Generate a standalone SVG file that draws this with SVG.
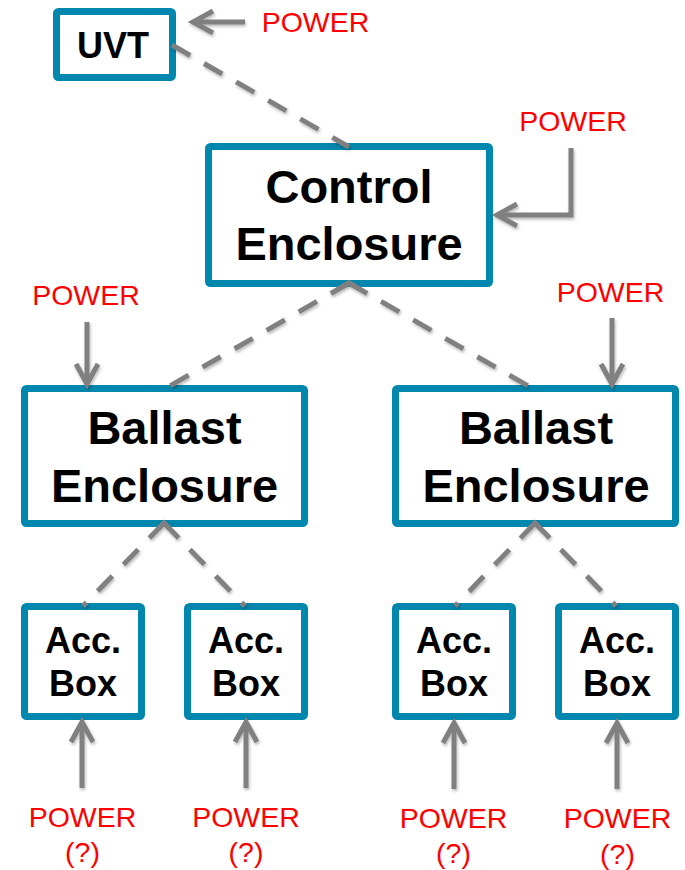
<svg xmlns="http://www.w3.org/2000/svg" width="685" height="870" viewBox="0 0 685 870">
  <style>
    .box { fill: #ffffff; stroke: #0087AE; stroke-width: 7; }
    .lbl { font-family: "Liberation Sans", Arial, sans-serif; font-weight: bold; fill: #000000; text-anchor: middle; }
    .big { font-size: 47px; }
    .mid { font-size: 36px; }
    .pwr { font-family: "Liberation Sans", Arial, sans-serif; font-size: 28.5px; fill: #FF0000; text-anchor: middle; }
    .dash { fill: none; stroke: #808080; stroke-width: 5; stroke-dasharray: 21 16; stroke-linecap: butt; }
    .peak { fill: none; stroke: #808080; stroke-width: 5; stroke-linejoin: miter; }
    .arr { fill: none; stroke: #808080; stroke-width: 5; stroke-linejoin: miter; marker-end: url(#chev); }
  </style>
  <defs>
    <marker id="chev" viewBox="-26 -14 30 28" refX="0" refY="0" markerWidth="30" markerHeight="28" markerUnits="userSpaceOnUse" orient="auto" overflow="visible">
      <path d="M -20 -11 L 0 0 L -20 11" fill="none" stroke="#808080" stroke-width="5" stroke-linejoin="miter"/>
    </marker>
    <filter id="sh" filterUnits="userSpaceOnUse" x="0" y="0" width="685" height="870">
      <feDropShadow dx="1" dy="2" stdDeviation="1.5" flood-color="#000000" flood-opacity="0.28"/>
    </filter>
  </defs>

  <g id="uvt">
    <rect class="box" x="56.5" y="11.5" width="116" height="66" rx="2"/>
    <text class="lbl mid" x="113" y="58">UVT</text>
  </g>
  <g id="control">
    <rect class="box" x="208.5" y="146.5" width="281" height="137" rx="2"/>
    <text class="lbl big" x="349" y="203">Control</text>
    <text class="lbl big" x="349" y="260">Enclosure</text>
  </g>
  <g id="ballast-left">
    <rect class="box" x="24.5" y="388.5" width="280" height="135" rx="2"/>
    <text class="lbl big" x="164.5" y="444">Ballast</text>
    <text class="lbl big" x="164.5" y="502">Enclosure</text>
  </g>
  <g id="ballast-right">
    <rect class="box" x="395.5" y="388.5" width="280" height="135" rx="2"/>
    <text class="lbl big" x="536" y="444">Ballast</text>
    <text class="lbl big" x="536" y="502">Enclosure</text>
  </g>
  <g id="acc1">
    <rect class="box" x="24.5" y="606.5" width="117" height="110" rx="2"/>
    <text class="lbl mid" x="83" y="653">Acc.</text>
    <text class="lbl mid" x="83" y="696">Box</text>
  </g>
  <g id="acc2">
    <rect class="box" x="187.5" y="606.5" width="117" height="110" rx="2"/>
    <text class="lbl mid" x="246" y="653">Acc.</text>
    <text class="lbl mid" x="246" y="696">Box</text>
  </g>
  <g id="acc3">
    <rect class="box" x="395.5" y="606.5" width="117" height="110" rx="2"/>
    <text class="lbl mid" x="454" y="653">Acc.</text>
    <text class="lbl mid" x="454" y="696">Box</text>
  </g>
  <g id="acc4">
    <rect class="box" x="558.5" y="606.5" width="117" height="110" rx="2"/>
    <text class="lbl mid" x="617" y="653">Acc.</text>
    <text class="lbl mid" x="617" y="696">Box</text>
  </g>

  <g id="connectors" filter="url(#sh)">
    <line class="dash" x1="172" y1="45" x2="349" y2="147"/>
    <line class="dash" x1="349" y1="283" x2="168" y2="387"/>
    <line class="dash" x1="349" y1="283" x2="530" y2="387"/>
    <path class="peak" d="M 342.1 287 L 349 283 L 355.9 287"/>
    <line class="dash" x1="164" y1="523" x2="83" y2="606"/>
    <line class="dash" x1="164" y1="523" x2="245" y2="606"/>
    <path class="peak" d="M 158.4 528.7 L 164 523 L 169.6 528.7"/>
    <line class="dash" x1="535" y1="523" x2="455" y2="606"/>
    <line class="dash" x1="535" y1="523" x2="616" y2="606"/>
    <path class="peak" d="M 529.4 528.8 L 535 523 L 540.6 528.7"/>
    <path class="arr" d="M 245 22 L 193 22"/>
    <path class="arr" d="M 571 148 L 571 215 L 497 215"/>
    <path class="arr" d="M 87 322 L 87 384"/>
    <path class="arr" d="M 612 318 L 612 384"/>
    <path class="arr" d="M 82 788 L 82 722"/>
    <path class="arr" d="M 246 788 L 246 722"/>
    <path class="arr" d="M 454 789 L 454 723"/>
    <path class="arr" d="M 617 789 L 617 723"/>
  </g>

  <g id="labels">
    <text class="pwr" x="315.5" y="32">POWER</text>
    <text class="pwr" x="573" y="131">POWER</text>
    <text class="pwr" x="86" y="305">POWER</text>
    <text class="pwr" x="610.5" y="302">POWER</text>
    <text class="pwr" x="82.5" y="827">POWER</text>
    <text class="pwr" x="82.5" y="862">(?)</text>
    <text class="pwr" x="246" y="827">POWER</text>
    <text class="pwr" x="246" y="862">(?)</text>
    <text class="pwr" x="453.5" y="828">POWER</text>
    <text class="pwr" x="453.5" y="863">(?)</text>
    <text class="pwr" x="617.5" y="828">POWER</text>
    <text class="pwr" x="617.5" y="864">(?)</text>
  </g>
</svg>
